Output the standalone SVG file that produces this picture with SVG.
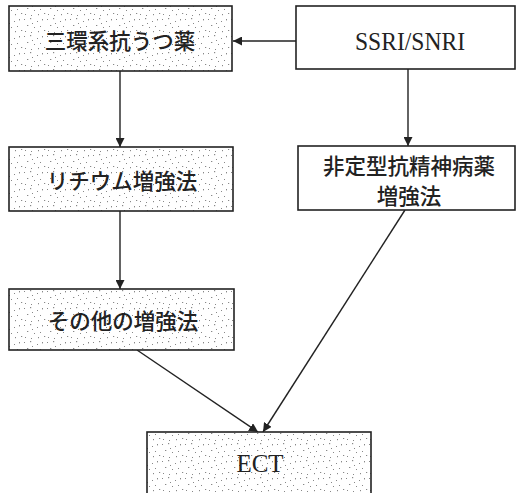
<svg xmlns="http://www.w3.org/2000/svg" width="518" height="493" viewBox="0 0 518 493">
<style>
.box{stroke:#222;stroke-width:1.6}
.plain{fill:#fff}
.dot{fill:url(#stipple)}
.jp{font-family:"Noto Sans CJK JP","Noto Sans CJK SC",sans-serif;font-size:21.5px;font-weight:500;fill:#222;text-anchor:middle;dominant-baseline:central}
.en{font-family:"Liberation Serif",serif;fill:#222;text-anchor:middle}
.line{stroke:#222;stroke-width:1.4;fill:none}
</style>
<defs>
<pattern id="stipple" width="23" height="17" patternUnits="userSpaceOnUse">
<rect width="23" height="17" fill="#fff"/>
<g fill="#888">
<rect x="1" y="2" width="1" height="1"/><rect x="7" y="1" width="1.2" height="1.2"/><rect x="14" y="4" width="1" height="1"/>
<rect x="19" y="2" width="1" height="1.4"/><rect x="4" y="8" width="1.3" height="1"/><rect x="11" y="10" width="1" height="1"/>
<rect x="17" y="9" width="1" height="1"/><rect x="21" y="13" width="1.2" height="1"/><rect x="2" y="14" width="1" height="1"/>
<rect x="8" y="15" width="1" height="1"/><rect x="15" y="14" width="1" height="1.2"/><rect x="9" y="6" width="1" height="1"/>
</g>
</pattern>
<marker id="ah" viewBox="0 0 10 10" refX="10" refY="5" markerWidth="9" markerHeight="9" markerUnits="userSpaceOnUse" orient="auto">
<path d="M0,0 L10,5 L0,10 z" fill="#222"/>
</marker>
</defs>
<g id="connectors">
<line class="line" x1="296" y1="41" x2="233" y2="41" marker-end="url(#ah)"/>
<line class="line" x1="120" y1="71" x2="120" y2="147" marker-end="url(#ah)"/>
<line class="line" x1="120" y1="211" x2="120" y2="289" marker-end="url(#ah)"/>
<line class="line" x1="408" y1="69" x2="408" y2="146" marker-end="url(#ah)"/>
<line class="line" x1="137" y1="350" x2="258" y2="432" marker-end="url(#ah)"/>
<line class="line" x1="405" y1="210" x2="263" y2="432" marker-end="url(#ah)"/>
</g>
<g id="tricyclic">
<rect class="box dot" x="9" y="6" width="223" height="65"/>
<text class="jp" x="120" y="39">三環系抗うつ薬</text>
</g>
<g id="ssri">
<rect class="box plain" x="296" y="6" width="219" height="63"/>
<text class="en" x="410" y="50" font-size="26" textLength="110" lengthAdjust="spacingAndGlyphs">SSRI/SNRI</text>
</g>
<g id="lithium">
<rect class="box dot" x="9" y="147" width="224" height="64"/>
<text class="jp" x="122" y="179">リチウム増強法</text>
</g>
<g id="atypical">
<rect class="box plain" x="298" y="146" width="217" height="64"/>
<text class="jp" x="409" y="164">非定型抗精神病薬</text>
<text class="jp" x="409" y="194">増強法</text>
</g>
<g id="other">
<rect class="box dot" x="9" y="289" width="225" height="61"/>
<text class="jp" x="123" y="319">その他の増強法</text>
</g>
<g id="ect">
<rect class="box dot" x="147" y="432" width="224" height="70"/>
<text class="en" x="260" y="472" font-size="25">ECT</text>
</g>
</svg>
